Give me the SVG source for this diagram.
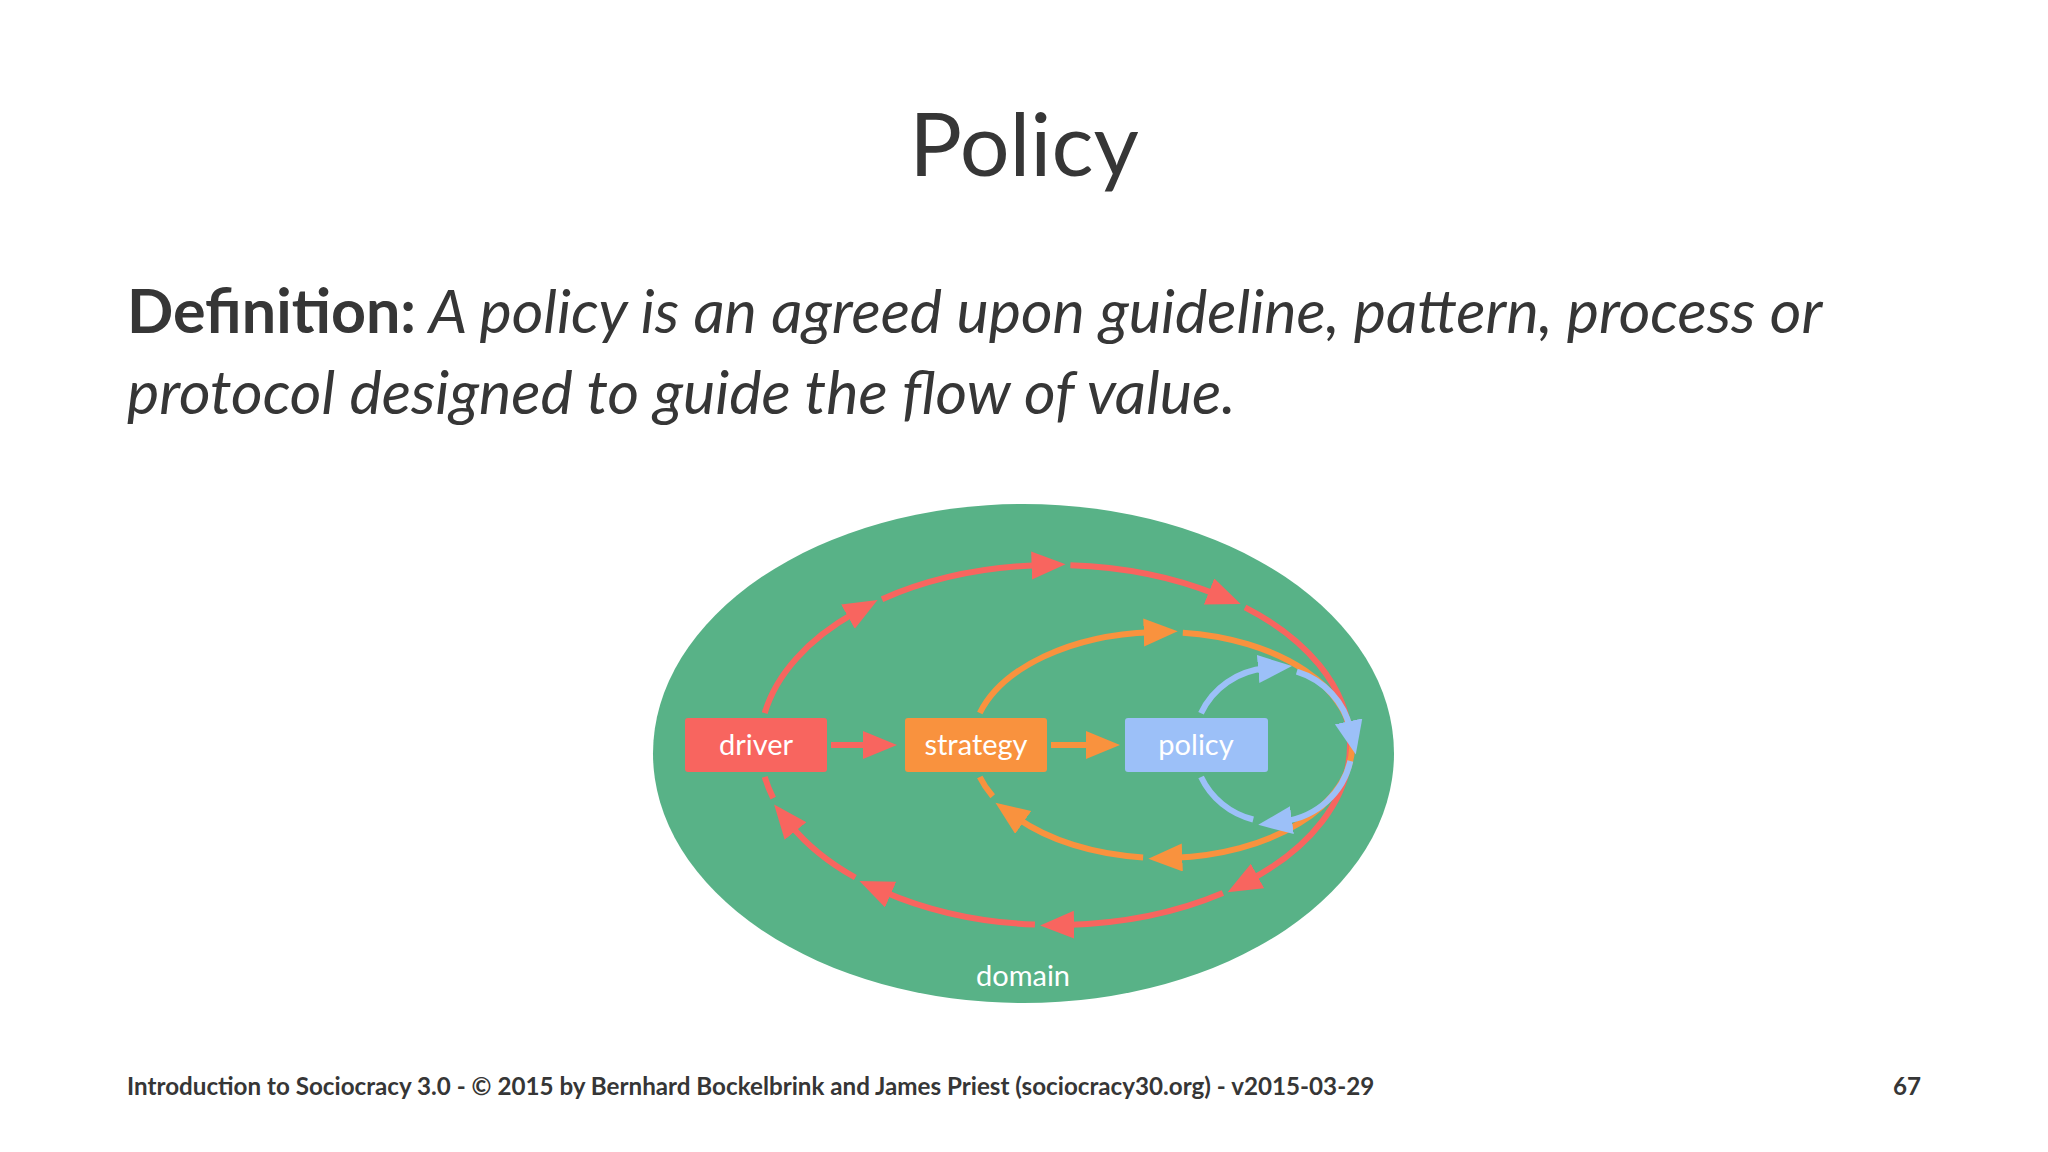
<svg xmlns="http://www.w3.org/2000/svg" width="2048" height="1152" viewBox="0 0 2048 1152">
<defs>
<style>
.title{font-family:Lato,"Liberation Sans",sans-serif;font-size:88px;fill:#363636}
.def{font-family:Lato,"Liberation Sans",sans-serif;font-size:61px;fill:#363636}
.foot{font-family:Lato,"Liberation Sans",sans-serif;font-size:24.2px;font-weight:bold;fill:#363636}
.lbl{font-family:Lato,"Liberation Sans",sans-serif;font-size:29px;fill:#ffffff;text-anchor:middle}
.red{fill:none;stroke:#f8655f;stroke-width:6}
.org{fill:none;stroke:#f9923e;stroke-width:6}
.blu{fill:none;stroke:#9cc0f8;stroke-width:6}
</style>
<marker id="ar" markerUnits="userSpaceOnUse" markerWidth="40" markerHeight="32" refX="8" refY="14" orient="auto"><path d="M0,0 L34,14 L0,28 z" fill="#f8655f"/></marker>
<marker id="ao" markerUnits="userSpaceOnUse" markerWidth="40" markerHeight="32" refX="8" refY="14" orient="auto"><path d="M0,0 L34,14 L0,28 z" fill="#f9923e"/></marker>
<marker id="ab" markerUnits="userSpaceOnUse" markerWidth="40" markerHeight="32" refX="8" refY="14" orient="auto"><path d="M0,0 L34,14 L0,28 z" fill="#9cc0f8"/></marker>
</defs>
<rect width="2048" height="1152" fill="#ffffff"/>
<text class="title" x="1024" y="176" text-anchor="middle">Policy</text>
<text class="def" x="127" y="333"><tspan font-weight="bold">Definition:</tspan><tspan font-style="italic"> A policy is an agreed upon guideline, pattern, process or</tspan></text>
<text class="def" x="127" y="414" font-style="italic">protocol designed to guide the flow of value.</text>
<g id="domain">
<ellipse cx="1023.5" cy="753.5" rx="370.5" ry="249.5" fill="#58b287"/>
<text class="lbl" x="1023" y="986" font-size="26">domain</text>
</g>
<g id="connectors">
<path class="red" marker-end="url(#ar)" d="M764.7,713.1 A295,180 0 0 1 854.9,612.7"/>
<path class="red" marker-end="url(#ar)" d="M882,599.2 A295,180 0 0 1 1039.6,565.2"/>
<path class="red" marker-end="url(#ar)" d="M1070.4,565.2 A295,180 0 0 1 1216.5,594.4"/>
<path class="red" marker-end="url(#ar)" d="M1245,607.3 A295,180 0 0 1 1250.5,879.8"/>
<path class="red" marker-end="url(#ar)" d="M1222.9,893 A295,180 0 0 1 1066.1,924.9"/>
<path class="red" marker-end="url(#ar)" d="M1034.9,924.6 A295,180 0 0 1 883.3,891.4"/>
<path class="red" marker-end="url(#ar)" d="M855.3,877.5 A295,180 0 0 1 790.5,824.8"/>
<path class="red" d="M773.2,798.2 A295,180 0 0 1 764.7,776.9"/>
<path class="org" marker-end="url(#ao)" d="M979.8,713 A190,113 0 0 1 1151.7,632.2"/>
<path class="org" marker-end="url(#ao)" d="M1182.8,632.7 A190,113 0 0 1 1174.3,857.8"/>
<path class="org" marker-end="url(#ao)" d="M1143.1,857.4 A190,113 0 0 1 1016.7,817.8"/>
<path class="org" d="M992.7,796.3 A190,113 0 0 1 979.8,777"/>
<path class="blu" marker-end="url(#ab)" d="M1201,713.3 A79,77 0 0 1 1266.1,668.3"/>
<path class="blu" marker-end="url(#ab)" d="M1296.8,671.6 A79,77 0 0 1 1350.3,729.2"/>
<path class="blu" marker-end="url(#ab)" d="M1350.3,761 A79,77 0 0 1 1284,821.3"/>
<path class="blu" d="M1253.2,819.5 A79,77 0 0 1 1201.1,777"/>
<path class="red" marker-end="url(#ar)" d="M831,745 L871,745"/>
<path class="org" marker-end="url(#ao)" d="M1051,745 L1094,745"/>
</g>
<g id="driver">
<rect x="685" y="718" width="142" height="54" rx="3" fill="#f8655f"/>
<text class="lbl" x="756" y="755">driver</text>
</g>
<g id="strategy">
<rect x="905" y="718" width="142" height="54" rx="3" fill="#f9923e"/>
<text class="lbl" x="976" y="755">strategy</text>
</g>
<g id="policy">
<rect x="1125" y="718" width="143" height="54" rx="3" fill="#9cc0f8"/>
<text class="lbl" x="1196" y="755">policy</text>
</g>
<text class="foot" x="127" y="1095">Introduction to Sociocracy 3.0 - © 2015 by Bernhard Bockelbrink and James Priest (sociocracy30.org) - v2015-03-29</text>
<text class="foot" x="1921" y="1095" text-anchor="end">67</text>
</svg>
